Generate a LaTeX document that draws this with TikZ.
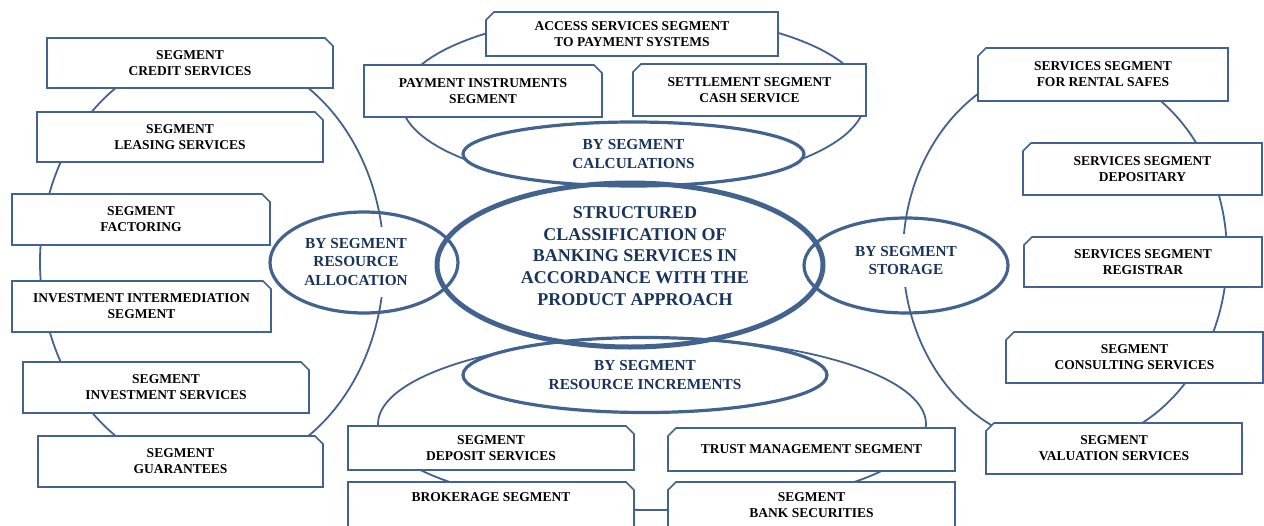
\documentclass[tikz,border=0pt]{standalone}
\usepackage{fontspec}
\setmainfont{Liberation Serif}
\usepackage{tikz}
\usetikzlibrary{shapes.geometric, shapes.misc}
\definecolor{lineblue}{RGB}{66,99,142}
\definecolor{textnavy}{RGB}{24,52,92}
\newcommand{\segfont}{\fontsize{13.5}{16}\selectfont\bfseries}
\newcommand{\ovalfont}{\fontsize{15.3}{18.5}\selectfont\bfseries}
\newcommand{\hubfont}{\fontsize{18}{21.75}\selectfont\bfseries}
\tikzset{
  segbox/.style={chamfered rectangle, chamfered rectangle sep=4pt, draw=lineblue, line width=1.6pt, fill=white, align=center, inner sep=2pt, font=\segfont},
  lbox/.style={segbox, chamfered rectangle corners=north east},
  rbox/.style={segbox, chamfered rectangle corners=north west},
  ring/.style={ellipse, draw=lineblue, line width=1.8pt, inner sep=0pt},
  oval/.style={ellipse, draw=lineblue, line width=3.2pt, inner sep=0pt, align=center, text=textnavy, font=\ovalfont},
  ovaltext/.style={align=center, text=textnavy, font=\ovalfont, fill=white, inner xsep=1pt}
}

\begin{document}
\begin{tikzpicture}[x=1pt, y=-1pt]
  \useasboundingbox (0,0) rectangle (1264,525);
  \clip (0,0) rectangle (1264,525);
  \node[ring, minimum width=344pt, minimum height=420pt] (leftring) at (212,262) {};
  \node[ring, minimum width=324pt, minimum height=382pt] (rightring) at (1065,255) {};
  \node[ring, minimum width=464pt, minimum height=172pt] (topring) at (633,100) {};
  \node[ring, minimum width=548pt, minimum height=172pt] (botring) at (652,424) {};

  % left column
  \node[lbox, minimum width=286pt, minimum height=50pt] (credit) at (190,63) {SEGMENT\\CREDIT SERVICES};
  \node[lbox, minimum width=286pt, minimum height=50pt] (leasing) at (180,137) {SEGMENT\\LEASING SERVICES};
  \node[lbox, minimum width=258pt, minimum height=51pt] (factoring) at (141,219.5) {SEGMENT\\FACTORING};
  \node[lbox, minimum width=259pt, minimum height=51pt] (intermed) at (141.5,306.5) {INVESTMENT INTERMEDIATION\\SEGMENT};
  \node[lbox, minimum width=286pt, minimum height=51pt] (invest) at (166,387.5) {SEGMENT\\INVESTMENT SERVICES};
  \node[lbox, minimum width=285pt, minimum height=51pt] (guarant) at (180.5,461.5) {SEGMENT\\GUARANTEES};

  % right column
  \node[rbox, minimum width=250pt, minimum height=53pt] (safes) at (1103,74.5) {SERVICES SEGMENT\\FOR RENTAL SAFES};
  \node[rbox, minimum width=239pt, minimum height=52pt] (depos) at (1142.5,169) {SERVICES SEGMENT\\DEPOSITARY};
  \node[rbox, minimum width=238pt, minimum height=50pt] (registrar) at (1143,262) {SERVICES SEGMENT\\REGISTRAR};
  \node[rbox, minimum width=257pt, minimum height=51pt] (consult) at (1134.5,357.5) {SEGMENT\\CONSULTING SERVICES};
  \node[rbox, minimum width=256pt, minimum height=51pt] (valuat) at (1114,448.5) {SEGMENT\\VALUATION SERVICES};

  % top group
  \node[rbox, minimum width=292pt, minimum height=44pt] (access) at (632,34) {ACCESS SERVICES SEGMENT\\TO PAYMENT SYSTEMS};
  \node[lbox, minimum width=238pt, minimum height=52pt] (payinst) at (483,91) {PAYMENT INSTRUMENTS\\SEGMENT};
  \node[rbox, minimum width=233pt, minimum height=52pt] (settle) at (749.5,90) {SETTLEMENT SEGMENT\\CASH SERVICE};

  % bottom group
  \node[lbox, minimum width=286pt, minimum height=44pt] (deposit) at (491,448) {SEGMENT\\DEPOSIT SERVICES};
  \node[rbox, minimum width=287pt, minimum height=43pt] (trust) at (811.5,449.5) {TRUST MANAGEMENT SEGMENT};
  \node[lbox, minimum width=286pt, minimum height=46pt] (broker) at (491,505) {BROKERAGE SEGMENT\\\mbox{}};
  \node[rbox, minimum width=287pt, minimum height=46pt] (banksec) at (811.5,505) {SEGMENT\\BANK SECURITIES};

  \node[oval, fill=white, minimum width=341pt, minimum height=64pt] (calc) at (633.5,154) {BY SEGMENT\\CALCULATIONS};
  \node[oval, fill=white, minimum width=364pt, minimum height=75pt] (incr) at (645,375) {BY SEGMENT\\RESOURCE INCREMENTS};
  \node[ovaltext, inner ysep=11pt] (alloctext) at (356,262) {BY SEGMENT\\RESOURCE\\ALLOCATION};
  \node[ovaltext, inner ysep=12pt] (storetext) at (906,260.5) {BY SEGMENT\\STORAGE};
  \node[oval, minimum width=188pt, minimum height=101pt] (alloc) at (364,262.5) {};
  \node[oval, minimum width=204pt, minimum height=95pt] (storage) at (906,265.5) {};

  \node[oval, line width=5pt, minimum width=386pt, minimum height=164pt] (hub) at (630,265) {};
  \node[align=center, text=textnavy, font=\hubfont] (hubtext) at (635,256)
    {STRUCTURED\\CLASSIFICATION OF\\BANKING SERVICES IN\\ACCORDANCE WITH THE\\PRODUCT APPROACH};
\end{tikzpicture}
\end{document}
